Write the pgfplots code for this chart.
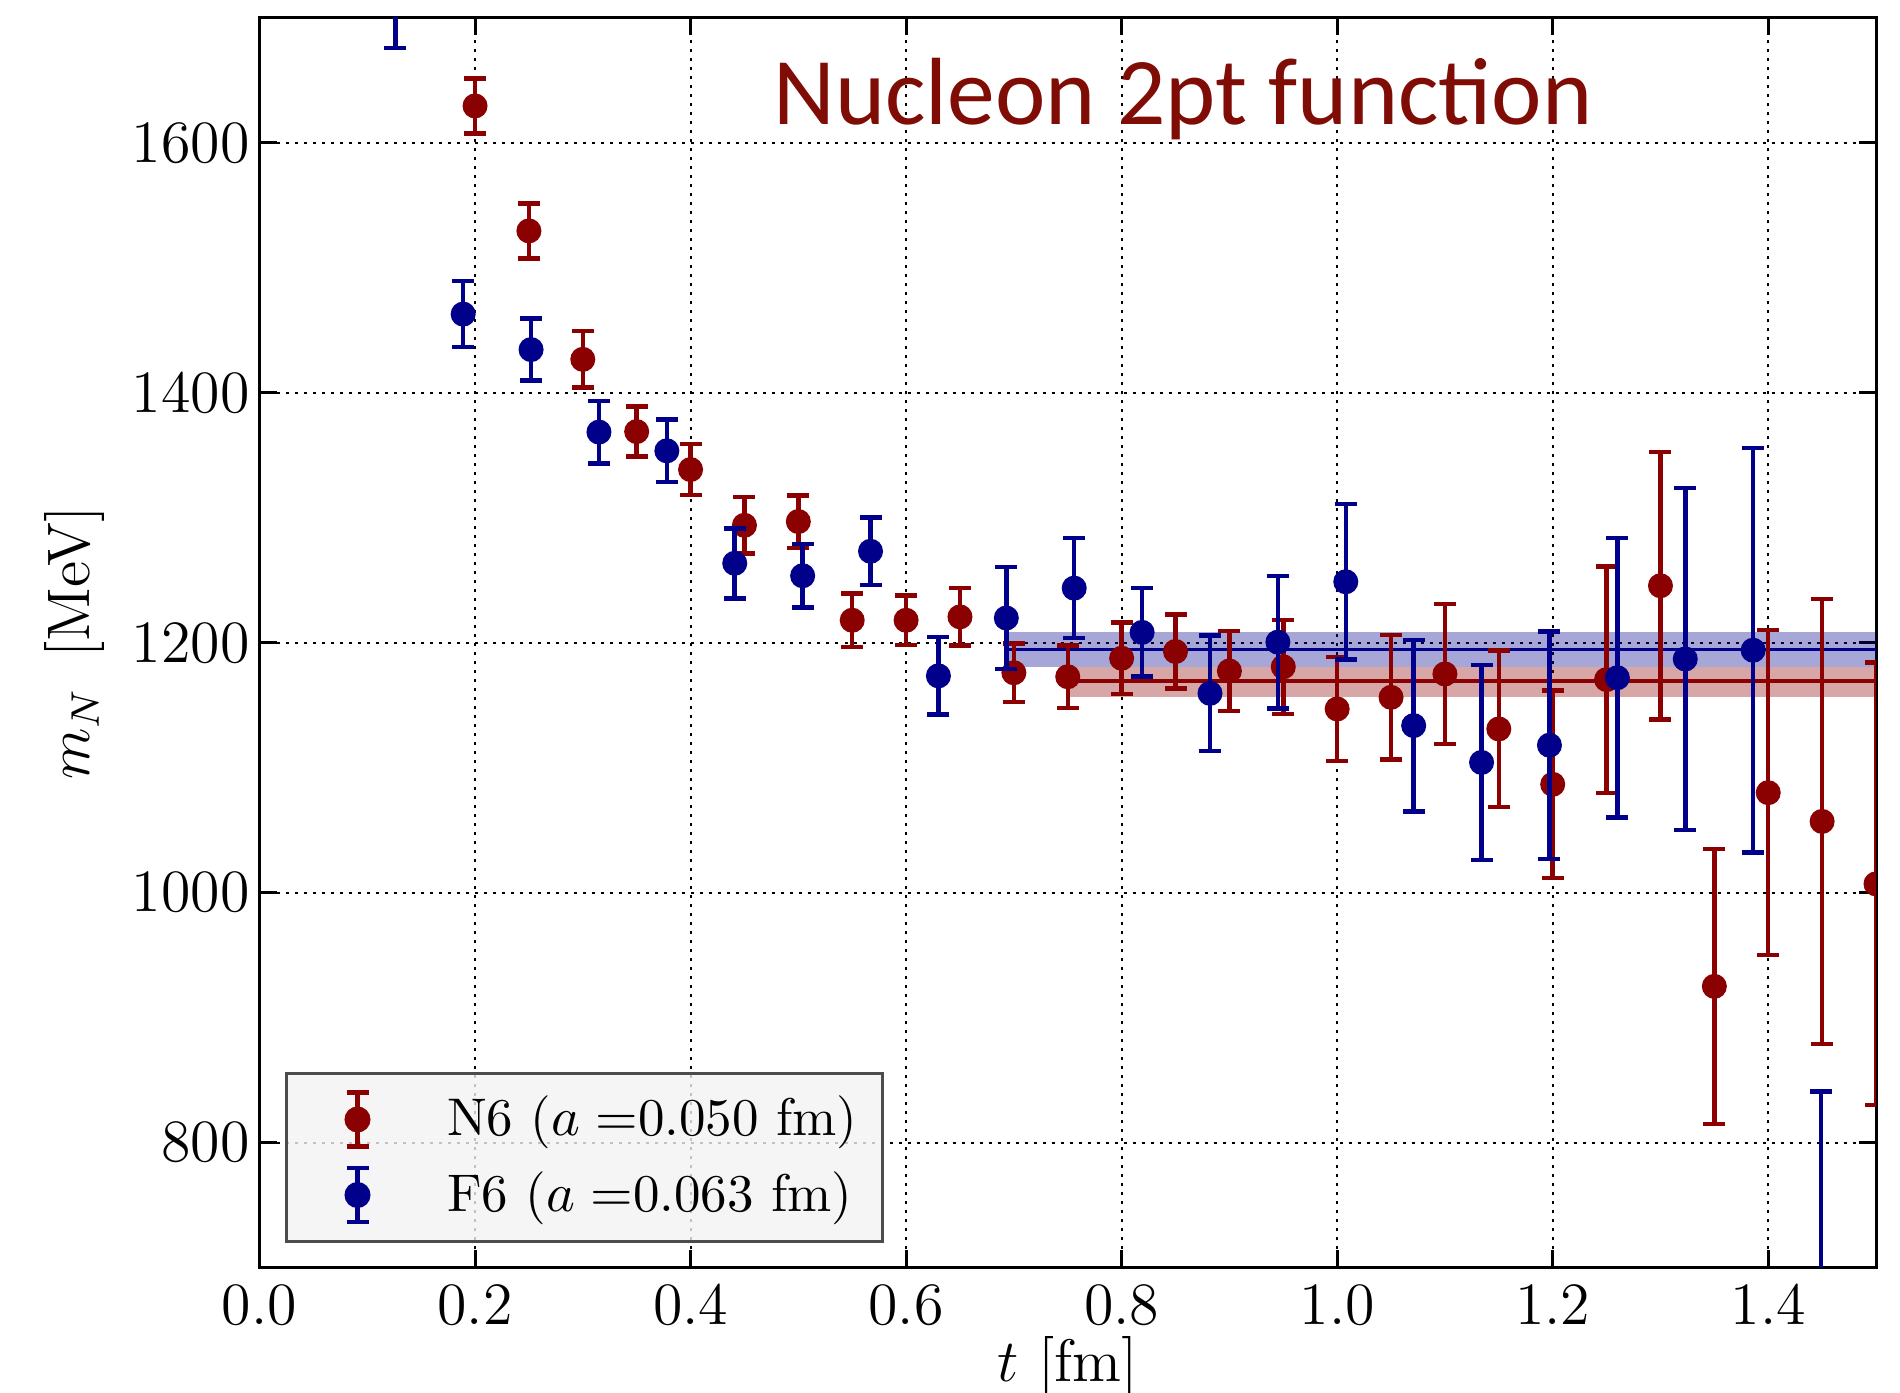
\documentclass[border=0pt]{standalone}
\usepackage{fontspec}
\usepackage{pgfplots}
\pgfplotsset{compat=1.18}
\usepackage{pgfplotstable}
\newfontfamily\carlito{Carlito}
\definecolor{mred}{RGB}{139,0,0}
\definecolor{mblue}{RGB}{0,0,139}
\definecolor{ttl}{RGB}{128,12,6}

\pgfplotstableread{
x y e
0.20 1629.6 22
0.25 1529.6 22
0.30 1426.8 22.5
0.35 1369.0 20
0.40 1338.6 20.5
0.45 1294.0 22.7
0.50 1297.0 21
0.55 1218.0 21.5
0.60 1218.0 20
0.65 1220.7 23
0.70 1176.0 23.5
0.75 1172.8 25
0.80 1187.6 28.5
0.85 1193.0 29.7
0.90 1177.4 32
0.95 1180.7 37.7
1.00 1147.0 41.5
1.05 1156.3 49.7
1.10 1175.0 56
1.15 1131.0 62.6
1.20 1086.7 75
1.25 1170.5 90.7
1.30 1245.6 107
1.35 925.0 110
1.40 1080.0 130
1.45 1057.0 178
1.50 1007.0 177
}\Nsix

\pgfplotstableread{
x y e
0.126 1704.0 28
0.189 1463.0 26.5
0.252 1434.6 24.8
0.315 1368.6 25
0.378 1353.6 25
0.441 1263.6 28
0.504 1253.6 25.4
0.567 1273.2 27
0.630 1173.5 31
0.693 1219.8 40.7
0.756 1243.7 40
0.819 1208.3 35.5
0.882 1159.5 46.3
0.945 1200.5 53
1.008 1248.8 62.4
1.071 1133.7 68.6
1.134 1104.2 78
1.197 1118.0 91
1.260 1172.0 112
1.323 1187.0 137
1.386 1194.0 162
1.449 650.0 191
}\Fsix

\begin{document}
\begin{tikzpicture}
\useasboundingbox (-51.9pt,-24.9pt) rectangle (328.1pt,253.5pt);
\clip (-51.9pt,-24.9pt) rectangle (328.1pt,253.5pt);
\begin{axis}[
  scale only axis,
  width=323.3pt, height=249.9pt,
  xmin=0, xmax=1.5, ymin=700, ymax=1700,
  xtick={0,0.2,0.4,0.6,0.8,1.0,1.2,1.4},
  ytick={800,1000,1200,1400,1600},
  xticklabel style={/pgf/number format/fixed, /pgf/number format/fixed zerofill, /pgf/number format/precision=1, inner ysep=3.5pt},
  yticklabel style={/pgf/number format/1000 sep={}, inner xsep=1.8pt},
  tick label style={font=\fontsize{12}{14}\selectfont},
  major tick length=3.5pt,
  every tick/.style={black, line width=0.6pt},
  axis line style={line width=0.6pt},
  grid=major,
  major grid style={black, line width=0.4pt, dash pattern=on 0.6pt off 1.2pt},
  clip marker paths=true,
  xlabel={$t$ [fm]},
  ylabel={$m_N$\enspace[MeV]},
  label style={font=\fontsize{12}{14}\selectfont},
  xlabel style={at={(axis description cs:0.5,0)}, anchor=base, yshift=-22.8pt},
  ylabel style={at={(axis description cs:0,0.5)}, anchor=base, yshift=33.9pt},
  legend cell align=left,
  legend style={at={(axis description cs:0.01547,0.02)}, anchor=south west,
    fill=black!5, fill opacity=0.8, draw opacity=1, text opacity=1,
    draw=black!70, line width=0.6pt,
    inner xsep=5pt, inner ysep=3.35pt, row sep=3.4pt, column sep=9.2pt,
    nodes={inner sep=0pt},
    font=\fontsize{10.6}{13}\selectfont},
  legend image code/.code={
    \draw[line width=0.9pt, draw opacity=1] (9.3pt,-5.4pt) -- (9.3pt,5.4pt);
    \draw[line width=0.9pt, draw opacity=1] (7.1pt,-5.4pt) -- (11.5pt,-5.4pt);
    \draw[line width=0.9pt, draw opacity=1] (7.1pt,5.4pt) -- (11.5pt,5.4pt);
    \fill[fill opacity=1] (9.3pt,0pt) circle (2.3pt);
    \path[draw=none, fill=none] (0pt,0pt) -- (18pt,0pt);
  },
]
% fit bands
\addplot[forget plot, draw=none, fill=mblue, fill opacity=0.35]
  coordinates {(0.693,1180.8) (1.5,1180.8) (1.5,1208.4) (0.693,1208.4)} -- cycle;
\addplot[forget plot, draw=none, fill=mred, fill opacity=0.35]
  coordinates {(0.75,1156.8) (1.5,1156.8) (1.5,1180.8) (0.75,1180.8)} -- cycle;
\addplot[forget plot, mblue, line width=0.66pt] coordinates {(0.693,1194.5) (1.5,1194.5)};
\addplot[forget plot, mred, line width=0.66pt] coordinates {(0.75,1169.5) (1.5,1169.5)};

\addplot[mred, only marks, mark=*, mark size=2.3pt, mark options={draw=none, fill=mred},
  error bars/.cd, y dir=both, y explicit,
  error bar style={line width=0.9pt, mred},
  error mark options={rotate=90, mark size=2.2pt, line width=0.9pt, mred}]
  table[x=x, y=y, y error=e] {\Nsix};
\addlegendentry{N6 ($a=$0.050 fm)}

\addplot[mblue, only marks, mark=*, mark size=2.3pt, mark options={draw=none, fill=mblue},
  error bars/.cd, y dir=both, y explicit,
  error bar style={line width=0.9pt, mblue},
  error mark options={rotate=90, mark size=2.2pt, line width=0.9pt, mblue}]
  table[x=x, y=y, y error=e] {\Fsix};
\addlegendentry{F6 ($a=$0.063 fm)}

\node[anchor=base west, inner sep=0pt, xshift=102.6pt, yshift=-21.4pt,
  font=\carlito\fontsize{19.1}{22}\selectfont, text=ttl]
  at (rel axis cs:0,1) {Nucleon 2pt function};
\end{axis}
\end{tikzpicture}
\end{document}
